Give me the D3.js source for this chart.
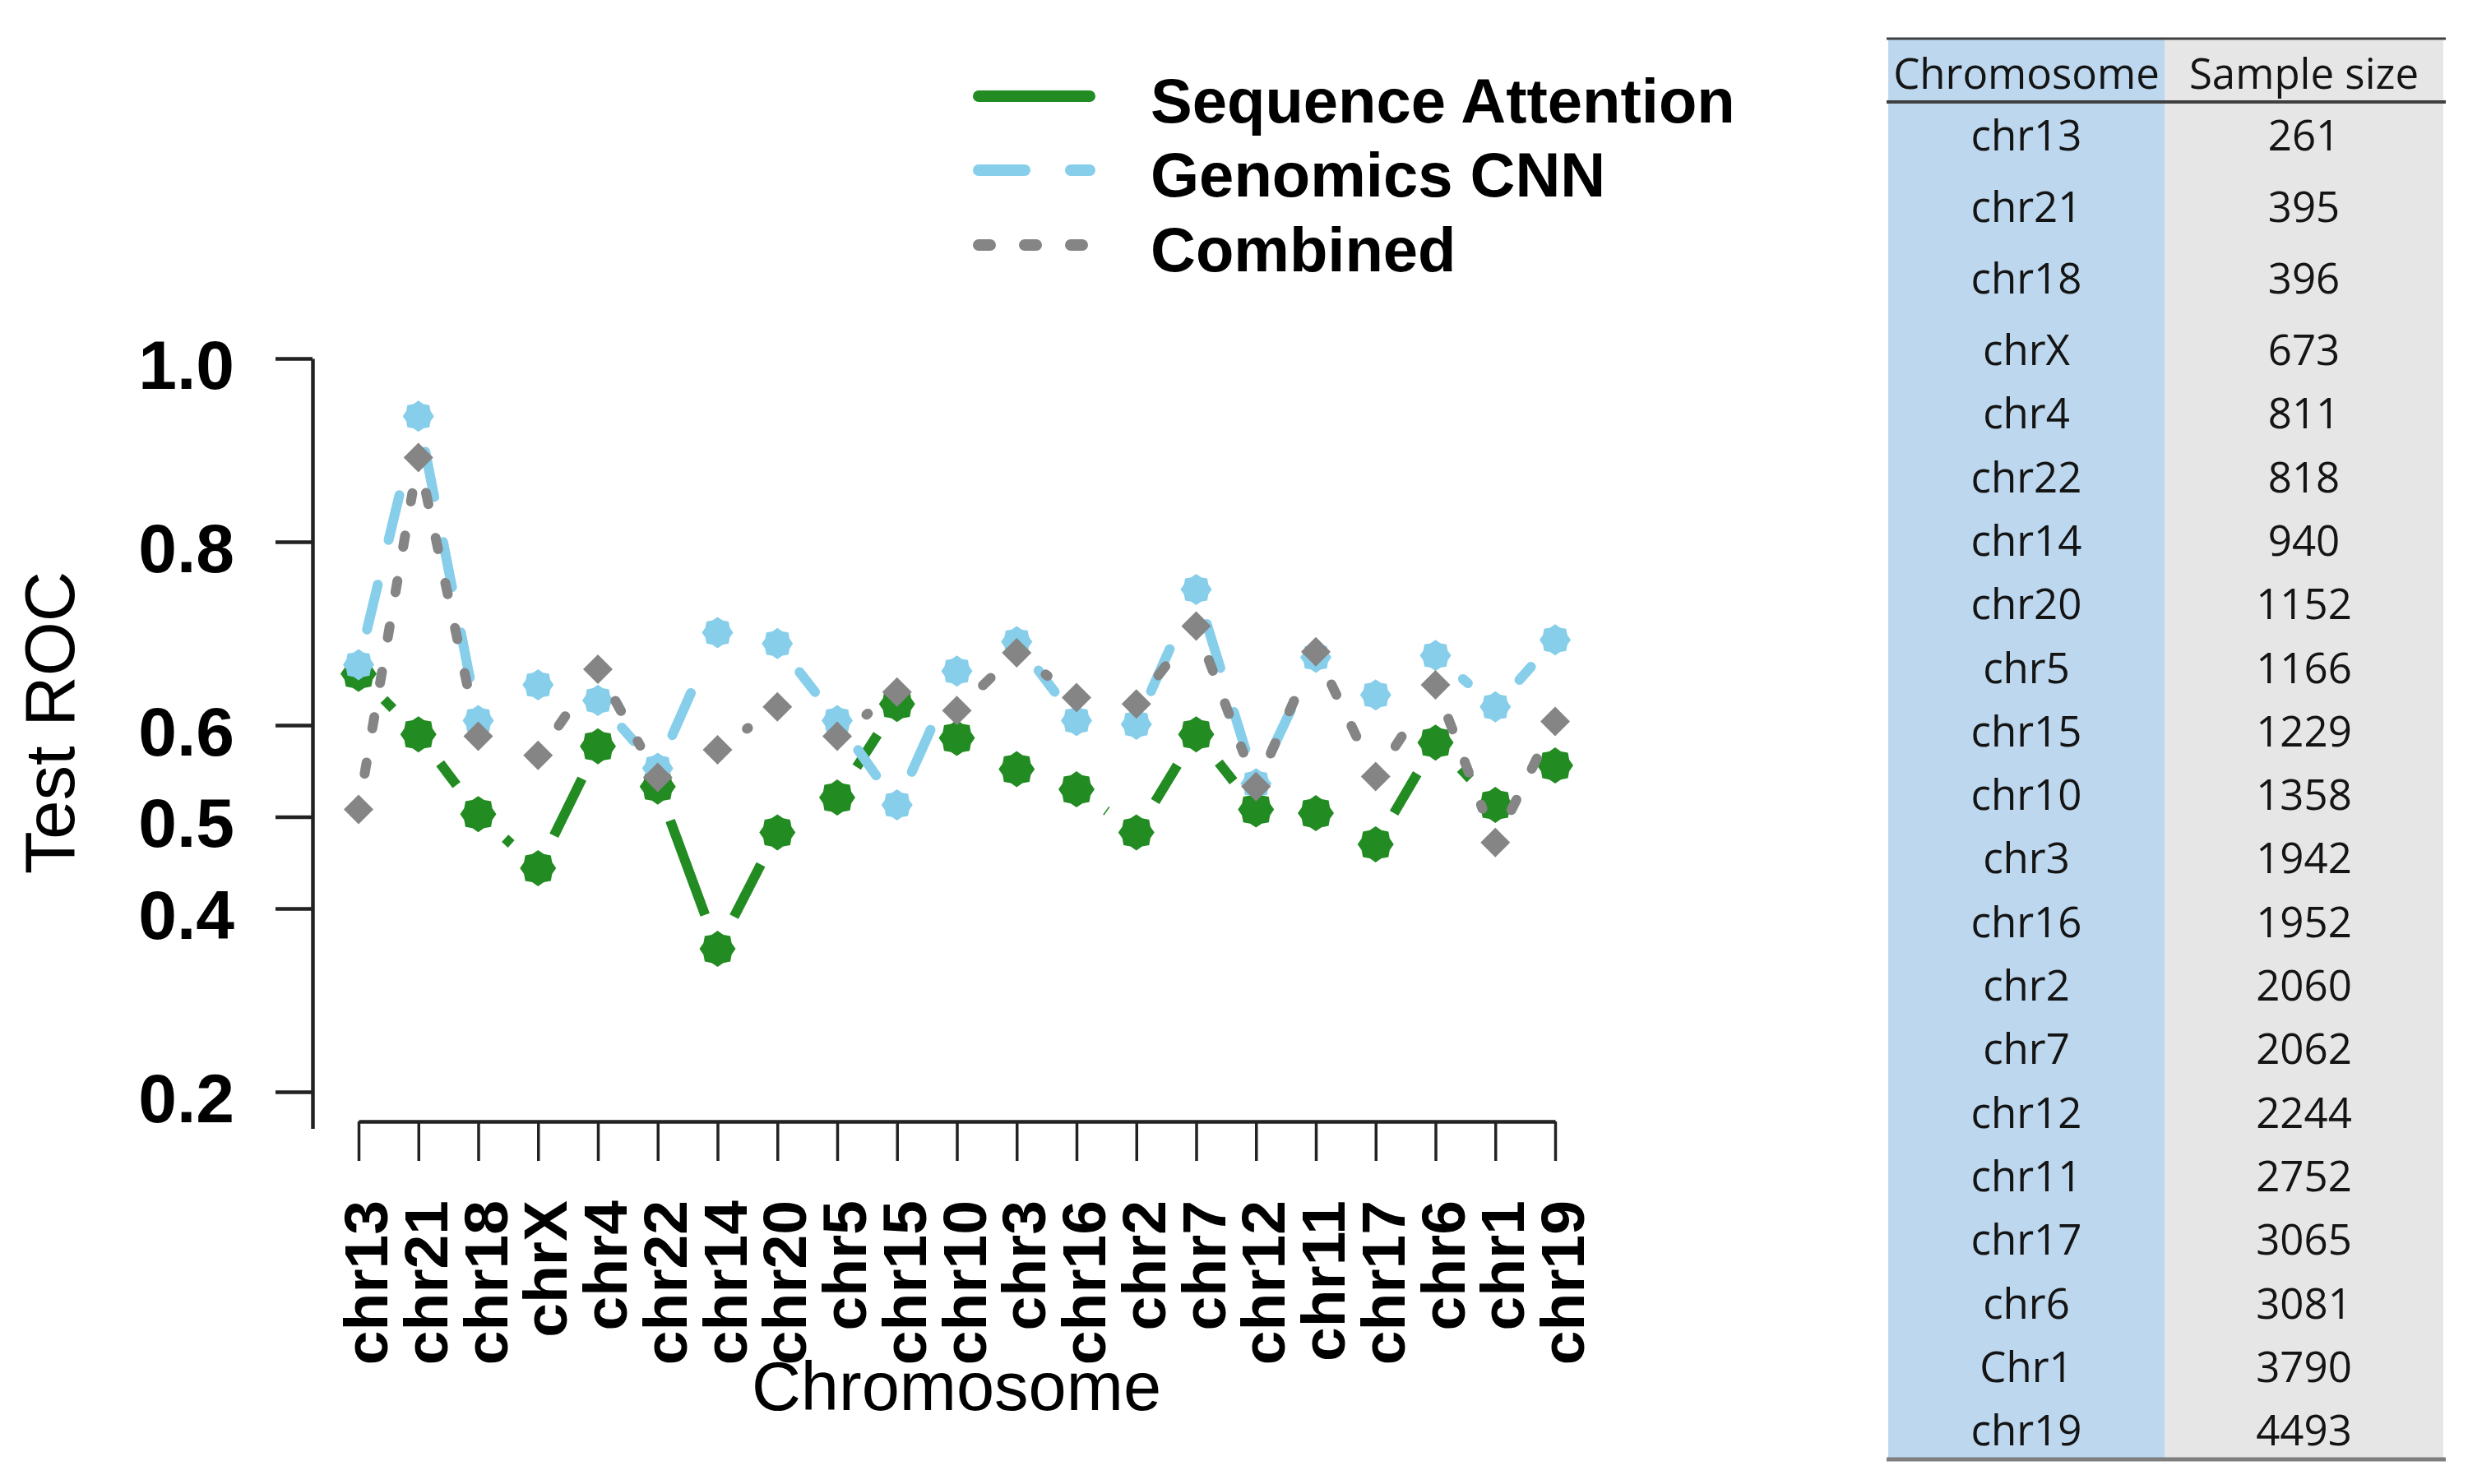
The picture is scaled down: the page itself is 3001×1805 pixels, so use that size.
<!doctype html>
<html>
<head>
<script src="https://d3js.org/d3.v7.min.js"></script>
<style>
    body { margin: 0; background: #fff; }
</style>
</head>
<body>
<script>
    // chromosome order on the x axis
    var chromosomes = ["chr13","chr21","chr18","chrX","chr4","chr22","chr14","chr20","chr5","chr15",
        "chr10","chr3","chr16","chr2","chr7","chr12","chr11","chr17","chr6","chr1","chr19"];

    // test ROC per chromosome
    var seqAttention = [0.656, 0.590, 0.503, 0.444, 0.577, 0.533, 0.356, 0.483, 0.521, 0.623,
        0.586, 0.552, 0.530, 0.483, 0.590, 0.508, 0.504, 0.470, 0.581, 0.513, 0.556];
    var genomicsCNN = [0.666, 0.937, 0.605, 0.644, 0.627, 0.553, 0.701, 0.689, 0.605, 0.513,
        0.659, 0.691, 0.605, 0.601, 0.748, 0.536, 0.674, 0.633, 0.676, 0.620, 0.693];
    var combined = [0.508, 0.892, 0.588, 0.567, 0.661, 0.543, 0.573, 0.620, 0.588, 0.636,
        0.616, 0.679, 0.630, 0.623, 0.708, 0.533, 0.680, 0.544, 0.644, 0.472, 0.604];

    var yTicks = [0.2, 0.4, 0.5, 0.6, 0.8, 1.0];
    var seriesNames = ["Sequence Attention", "Genomics CNN", "Combined"];

    // sample size table
    var tableHeader = ["Chromosome", "Sample size"];
    var tableChrom = ["chr13","chr21","chr18","chrX","chr4","chr22","chr14","chr20","chr5","chr15",
        "chr10","chr3","chr16","chr2","chr7","chr12","chr11","chr17","chr6","Chr1","chr19"];
    var sampleSize = [261, 395, 396, 673, 811, 818, 940, 1152, 1166, 1229,
        1358, 1942, 1952, 2060, 2062, 2244, 2752, 3065, 3081, 3790, 4493];

    var W = 3001, H = 1805;
    var plotFont = "'Liberation Sans', Arial, Helvetica, sans-serif";
    var tableFont = "'Open Sans', 'Noto Sans', sans-serif";

    var svg = d3.select("body").append("svg")
        .attr("width", W)
        .attr("height", H);

    svg.append("rect").attr("width", W).attr("height", H).attr("fill", "#fff");

    var xScale = d3.scalePoint().domain(chromosomes).range([436, 1891]);
    // axis line runs a bit below 0.2, like the original
    var yScale = d3.scaleLinear().domain([0.16, 1.0]).range([1372.6, 436]);

    //y axis
    var yAxis = svg.append("g")
        .attr("transform", "translate(380,0)")
        .call(d3.axisLeft(yScale).tickValues(yTicks).tickSize(45).tickSizeOuter(0)
            .tickFormat(d3.format(".1f")));
    yAxis.select(".domain").attr("stroke", "#222").attr("stroke-width", 4.5);
    yAxis.selectAll(".tick line").attr("stroke", "#222").attr("stroke-width", 4.5);
    yAxis.selectAll(".tick text")
        .attr("x", -95)
        .attr("dy", "0.43em")
        .attr("fill", "#000")
        .attr("font-family", plotFont)
        .attr("font-weight", "bold")
        .attr("font-size", 84);

    //x axis with rotated labels
    var xAxis = svg.append("g")
        .attr("transform", "translate(0,1364)")
        .call(d3.axisBottom(xScale).tickSize(48).tickSizeOuter(0));
    xAxis.select(".domain").attr("stroke", "#222").attr("stroke-width", 4.5);
    xAxis.selectAll(".tick line").attr("stroke", "#222").attr("stroke-width", 3.5);
    xAxis.selectAll(".tick text")
        .attr("transform", "rotate(-90)")
        .attr("x", -96)
        .attr("y", 0)
        .attr("dy", "0.46em")
        .attr("text-anchor", "end")
        .attr("fill", "#000")
        .attr("font-family", plotFont)
        .attr("font-weight", "bold")
        .attr("font-size", 75);

    // axis titles
    svg.append("text")
        .attr("transform", "translate(90,879) rotate(-90)")
        .attr("text-anchor", "middle")
        .attr("font-family", plotFont)
        .attr("font-size", 85)
        .text("Test ROC");

    svg.append("text")
        .attr("x", 1163)
        .attr("y", 1715)
        .attr("text-anchor", "middle")
        .attr("font-family", plotFont)
        .attr("font-size", 83)
        .text("Chromosome");

    // marker shapes
    function gearPath(rIn, rOut) {
        var pts = d3.range(16).map(function(k) {
            var a = k * Math.PI / 8, r = (k % 2 === 0) ? rOut : rIn;
            return [r * Math.cos(a), r * Math.sin(a)];
        });
        return "M" + pts.join("L") + "Z";
    }
    function diamondPath(r) {
        return "M0," + (-r) + "L" + r + ",0L0," + r + "L" + (-r) + ",0Z";
    }

    var series = [
        {name: seriesNames[0], values: seqAttention, color: "#228B22", dash: null, marker: gearPath(18.5, 22)},
        {name: seriesNames[1], values: genomicsCNN, color: "#87CEEB", dash: "56,56", marker: gearPath(16, 19)},
        {name: seriesNames[2], values: combined, color: "#858585", dash: "14,42", marker: diamondPath(18)}
    ];

    // R type="b": line pieces with a gap round each point
    var gap = 44;
    series.forEach(function(s) {
        var pts = chromosomes.map(function(c, i) { return [xScale(c), yScale(s.values[i])]; });
        var segs = d3.pairs(pts).map(function(p) {
            var dx = p[1][0] - p[0][0], dy = p[1][1] - p[0][1];
            var len = Math.sqrt(dx * dx + dy * dy);
            var ux = dx / len, uy = dy / len;
            return {len: len, x1: p[0][0] + ux * gap, y1: p[0][1] + uy * gap,
                x2: p[1][0] - ux * gap, y2: p[1][1] - uy * gap};
        }).filter(function(d) { return d.len > 2 * gap; });

        var g = svg.append("g");
        g.selectAll("line")
            .data(segs)
            .enter().append("line")
            .attr("x1", function(d) { return d.x1; })
            .attr("y1", function(d) { return d.y1; })
            .attr("x2", function(d) { return d.x2; })
            .attr("y2", function(d) { return d.y2; })
            .attr("stroke", s.color)
            .attr("stroke-width", 12)
            .attr("stroke-linecap", s.dash ? "round" : "butt")
            .attr("stroke-dasharray", s.dash);

        g.selectAll("path")
            .data(pts)
            .enter().append("path")
            .attr("transform", function(d) { return "translate(" + d[0] + "," + d[1] + ")"; })
            .attr("d", s.marker)
            .attr("fill", s.color);
    });

    //legend
    var legend = svg.append("g");
    var legendRowY = [117, 207, 298];
    series.forEach(function(s, i) {
        legend.append("line")
            .attr("x1", 1190).attr("x2", 1325)
            .attr("y1", legendRowY[i]).attr("y2", legendRowY[i])
            .attr("stroke", s.color)
            .attr("stroke-width", 14)
            .attr("stroke-linecap", "round")
            .attr("stroke-dasharray", s.dash);
        legend.append("text")
            .attr("x", 1399)
            .attr("y", legendRowY[i] + 32)
            .attr("font-family", plotFont)
            .attr("font-weight", "bold")
            .attr("font-size", 76)
            .text(s.name);
    });

    // table on the right
    var tLeft = 2296, tMid = 2632, tRight = 2971;
    var tTop = 47, tHead = 124, tBottom = 1775;
    var table = svg.append("g");
    table.append("rect").attr("x", tLeft).attr("y", tTop).attr("width", tMid - tLeft)
        .attr("height", tBottom - tTop).attr("fill", "#BDD7EE");
    table.append("rect").attr("x", tMid).attr("y", tTop).attr("width", tRight - tMid)
        .attr("height", tBottom - tTop).attr("fill", "#E6E6E6");

    table.append("line").attr("x1", tLeft - 2).attr("x2", tRight + 3).attr("y1", tTop).attr("y2", tTop)
        .attr("stroke", "#404040").attr("stroke-width", 3);
    table.append("line").attr("x1", tLeft - 2).attr("x2", tRight + 3).attr("y1", tHead).attr("y2", tHead)
        .attr("stroke", "#404040").attr("stroke-width", 4);
    table.append("line").attr("x1", tLeft - 2).attr("x2", tRight + 3).attr("y1", tBottom).attr("y2", tBottom)
        .attr("stroke", "#7f7f7f").attr("stroke-width", 5);

    var colX = [(tLeft + tMid) / 2, (tMid + tRight) / 2];
    tableHeader.forEach(function(h, i) {
        table.append("text")
            .attr("x", colX[i]).attr("y", 108)
            .attr("text-anchor", "middle")
            .attr("font-family", tableFont)
            .attr("font-size", 51)
            .attr("fill", "#141414")
            .text(h);
    });

    // first rows of the table are a little taller
    function rowY(i) { return i < 3 ? 168 + 87 * i : 429 + (i - 3) * 77.3; }

    table.selectAll(".chromCell")
        .data(tableChrom)
        .enter().append("text")
        .attr("class", "chromCell")
        .attr("x", colX[0])
        .attr("y", function(d, i) { return rowY(i) + 15; })
        .attr("text-anchor", "middle")
        .attr("font-family", tableFont)
        .attr("font-size", 51)
        .attr("fill", "#141414")
        .text(function(d) { return d; });

    table.selectAll(".sizeCell")
        .data(sampleSize)
        .enter().append("text")
        .attr("class", "sizeCell")
        .attr("x", colX[1])
        .attr("y", function(d, i) { return rowY(i) + 15; })
        .attr("text-anchor", "middle")
        .attr("font-family", tableFont)
        .attr("font-size", 51)
        .attr("fill", "#141414")
        .text(function(d) { return d; });
</script>
</body>
</html>
